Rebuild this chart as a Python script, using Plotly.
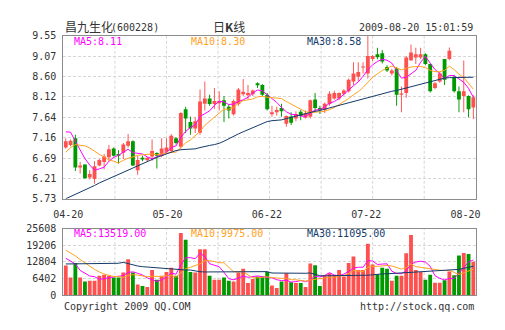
import numpy as np
import plotly.graph_objects as go

# Daily quotes of 昌九生化 (600228), 2009-04-20 .. 2009-08-20
open_ = [6.93, 6.99, 7.15, 6.46, 6.53, 6.23, 6.19, 6.51, 6.59, 6.70,
         6.91, 6.78, 6.81, 6.97, 7.08, 6.40, 6.69, 6.63, 6.72, 6.80,
         6.74, 6.83, 6.85, 7.15, 6.95, 7.83, 7.53, 7.38, 7.28, 7.96,
         8.08, 7.95, 7.97, 8.04, 7.89, 7.71, 7.95, 8.18, 8.16, 8.18,
         8.44, 8.40, 8.17, 7.71, 7.76, 7.86, 7.49, 7.66, 7.61, 7.77,
         7.63, 7.65, 8.06, 7.86, 7.81, 7.95, 8.08, 8.08, 8.19, 8.25,
         8.48, 8.59, 8.81, 8.67, 9.01, 9.12, 9.14, 8.82, 8.67, 8.78,
         8.17, 8.21, 8.98, 9.04, 9.04, 9.12, 8.89, 8.33, 8.48, 9.01,
         9.01, 8.59, 8.25, 8.14, 8.14, 7.87]
high = [7.15, 7.12, 7.23, 6.59, 6.54, 6.40, 6.61, 6.66, 6.78, 6.99,
        6.93, 6.87, 7.04, 7.25, 7.10, 6.74, 6.74, 6.71, 7.12, 6.82,
        7.15, 7.15, 7.25, 7.18, 7.76, 7.89, 7.66, 7.64, 8.29, 8.48,
        8.17, 8.33, 8.25, 8.14, 7.95, 8.06, 8.33, 8.54, 8.40, 8.29,
        8.46, 8.42, 8.21, 7.91, 7.89, 7.96, 7.68, 7.76, 7.78, 7.81,
        7.80, 8.06, 8.21, 7.91, 7.99, 8.25, 8.26, 8.23, 8.30, 8.55,
        8.93, 8.93, 8.93, 9.55, 9.10, 9.27, 9.22, 8.86, 8.78, 8.82,
        8.36, 9.08, 9.35, 9.27, 9.27, 9.14, 8.90, 8.47, 8.70, 9.01,
        9.28, 8.62, 8.36, 8.97, 8.16, 8.16]
low = [6.90, 6.96, 6.38, 6.32, 6.20, 6.18, 6.08, 6.49, 6.42, 6.61,
       6.72, 6.55, 6.66, 6.93, 6.50, 6.29, 6.61, 6.60, 6.62, 6.44,
       6.70, 6.78, 6.81, 7.00, 6.90, 7.27, 7.23, 7.27, 7.23, 7.80,
       7.91, 7.84, 7.80, 7.53, 7.61, 7.68, 7.91, 8.14, 8.06, 8.14,
       8.33, 8.14, 7.80, 7.65, 7.68, 7.65, 7.42, 7.46, 7.55, 7.57,
       7.61, 7.61, 7.76, 7.72, 7.74, 7.91, 8.06, 8.04, 8.15, 8.22,
       8.40, 8.48, 8.67, 8.55, 8.96, 9.00, 8.90, 8.70, 8.62, 7.91,
       7.76, 8.10, 8.96, 8.89, 9.00, 8.86, 8.22, 8.30, 8.45, 8.40,
       8.98, 8.22, 7.76, 7.76, 7.64, 7.60]
close = [7.08, 7.09, 6.46, 6.51, 6.21, 6.31, 6.49, 6.64, 6.72, 6.89,
         6.74, 6.74, 7.00, 7.08, 6.51, 6.64, 6.65, 6.69, 6.85, 6.74,
         6.91, 6.93, 7.21, 7.04, 7.74, 7.61, 7.38, 7.55, 8.01, 8.08,
         7.95, 8.02, 8.02, 7.91, 7.80, 8.02, 8.29, 8.24, 8.21, 8.27,
         8.39, 8.17, 7.83, 7.76, 7.81, 7.78, 7.67, 7.51, 7.72, 7.67,
         7.74, 8.04, 7.86, 7.81, 7.96, 8.19, 8.21, 8.21, 8.27, 8.52,
         8.67, 8.70, 8.83, 9.08, 9.08, 9.05, 8.95, 8.74, 8.74, 8.17,
         8.20, 9.04, 9.16, 9.12, 9.12, 8.89, 8.25, 8.44, 8.67, 8.52,
         9.20, 8.25, 8.06, 8.25, 7.83, 8.11]
volume = [11380, 6800, 12370, 6800, 5200, 5570, 5570, 7420, 7790, 7420,
          6800, 6800, 8660, 13850, 8660, 4080, 3460, 3090, 9650, 5940,
          7420, 8910, 10520, 7420, 23870, 21280, 8910, 8660, 17690, 17690,
          7420, 5940, 5940, 6800, 5570, 5200, 8660, 10140, 4700, 6190,
          7170, 7170, 8910, 3710, 2720, 5200, 8410, 4950, 4700, 4700,
          3090, 12120, 11500, 3460, 7670, 8410, 7670, 9650, 7170, 12370,
          14840, 9650, 9650, 19790, 11750, 8040, 10520, 10140, 5570, 7420,
          7420, 16080, 23130, 9650, 8910, 5940, 7800, 4800, 4800, 5700,
          9055, 7600, 15200, 16200, 15800, 12795]

# moving averages of the close price
ma5 = [7.30, 7.29, 7.08, 6.88, 6.67, 6.52, 6.40, 6.43, 6.47, 6.61,
       6.70, 6.75, 6.82, 6.89, 6.81, 6.79, 6.78, 6.71, 6.67, 6.71,
       6.77, 6.82, 6.93, 6.97, 7.17, 7.31, 7.40, 7.46, 7.66, 7.73,
       7.79, 7.92, 8.02, 8.00, 7.94, 7.95, 8.01, 8.05, 8.11, 8.21,
       8.28, 8.26, 8.17, 8.08, 7.99, 7.87, 7.77, 7.71, 7.70, 7.67,
       7.66, 7.74, 7.81, 7.82, 7.88, 7.97, 8.01, 8.08, 8.17, 8.28,
       8.38, 8.47, 8.60, 8.76, 8.87, 8.95, 9.00, 8.98, 8.91, 8.73,
       8.56, 8.58, 8.66, 8.74, 8.93, 9.07, 8.91, 8.76, 8.67, 8.55,
       8.62, 8.62, 8.54, 8.46, 8.32, 8.11]
ma10 = [6.82, 6.93, 7.00, 6.99, 6.97, 6.92, 6.84, 6.77, 6.71, 6.64,
        6.61, 6.57, 6.63, 6.68, 6.71, 6.75, 6.76, 6.77, 6.78, 6.76,
        6.78, 6.80, 6.82, 6.82, 6.94, 7.04, 7.11, 7.20, 7.31, 7.45,
        7.55, 7.66, 7.74, 7.83, 7.83, 7.87, 7.97, 8.03, 8.05, 8.07,
        8.12, 8.13, 8.11, 8.10, 8.10, 8.08, 8.01, 7.94, 7.89, 7.83,
        7.77, 7.75, 7.76, 7.76, 7.78, 7.82, 7.87, 7.94, 8.00, 8.08,
        8.17, 8.24, 8.34, 8.46, 8.58, 8.66, 8.74, 8.79, 8.84, 8.80,
        8.75, 8.79, 8.82, 8.83, 8.83, 8.81, 8.74, 8.71, 8.71, 8.74,
        8.84, 8.76, 8.65, 8.57, 8.44, 8.30]
ma30 = [5.73, 5.78, 5.83, 5.89, 5.94, 5.99, 6.04, 6.10, 6.15, 6.20,
        6.25, 6.31, 6.36, 6.41, 6.46, 6.51, 6.56, 6.61, 6.65, 6.70,
        6.74, 6.78, 6.82, 6.86, 6.88, 6.89, 6.89, 6.90, 6.93, 6.96,
        6.98, 7.00, 7.03, 7.08, 7.14, 7.19, 7.25, 7.30, 7.35, 7.40,
        7.45, 7.50, 7.54, 7.56, 7.57, 7.58, 7.61, 7.64, 7.67, 7.69,
        7.72, 7.75, 7.78, 7.80, 7.83, 7.86, 7.90, 7.93, 7.95, 7.98,
        8.01, 8.04, 8.07, 8.11, 8.14, 8.16, 8.19, 8.22, 8.25, 8.27,
        8.30, 8.33, 8.36, 8.39, 8.42, 8.45, 8.48, 8.50, 8.53, 8.56,
        8.57, 8.57, 8.58, 8.58, 8.58, 8.58]

# moving averages of the volume
vol_ma5 = [14200, 13200, 12000, 9500, 8510, 7348, 7102, 6112, 6310, 6754,
           7000, 7246, 7494, 8706, 8954, 8410, 7742, 6628, 5788, 5244,
           5912, 7002, 8488, 8042, 11628, 14400, 14400, 14028, 16082, 14846,
           12074, 11480, 10936, 8758, 6334, 5890, 6434, 7274, 6854, 6978,
           7372, 7074, 6828, 6630, 5936, 5542, 5790, 4998, 5196, 5592,
           5170, 5912, 7222, 6974, 7568, 8632, 7742, 7372, 8114, 9054,
           10340, 10736, 10736, 13260, 13136, 11776, 11950, 12048, 9204, 8338,
           8214, 9326, 11924, 12740, 13038, 12742, 11086, 7420, 6450, 5808,
           6431, 6391, 8471, 10751, 12771, 13519]
vol_ma10 = [17300, 16300, 15100, 13700, 12400, 11100, 9900, 8900, 8100, 7632,
            7174, 7174, 6803, 7508, 7854, 7705, 7494, 7061, 7247, 7099,
            7161, 7372, 7558, 6915, 8436, 10156, 10701, 11258, 12062, 13237,
            13237, 12940, 12482, 12420, 10590, 8982, 8957, 9105, 7806, 6656,
            6631, 6754, 7051, 6742, 6457, 6457, 6432, 5913, 5913, 5764,
            5356, 5851, 6110, 6085, 6580, 6901, 6827, 7297, 7544, 8311,
            9486, 9239, 9054, 10687, 11095, 11058, 11343, 11392, 11232, 10737,
            9995, 10638, 11986, 10972, 10688, 10478, 10206, 9672, 9595, 9423,
            9587, 8739, 7946, 8601, 9290, 9975]
vol_ma30 = [11990, 11990, 11990, 11990, 11990, 11990, 11990, 11990, 11990, 11990,
            11990, 12250, 12600, 12100, 11700, 11200, 10950, 10800, 10650, 10500,
            10400, 10270, 10100, 9900, 9650, 9650, 9650, 9300, 9000, 8910,
            8910, 8930, 8900, 8880, 8910, 8950, 8930, 8910, 8900, 8920,
            8950, 8980, 9030, 8500, 8450, 8400, 8410, 8420, 8400, 8380,
            8400, 8515, 7900, 7450, 7420, 7420, 7405, 7420, 7430, 7450,
            7480, 7450, 7500, 7670, 7800, 8100, 8160, 8200, 8300, 8410,
            8410, 8600, 8850, 8910, 9000, 9100, 9150, 9200, 9300, 9450,
            9600, 9650, 9900, 10300, 10700, 11095]

date_labels = ["04-20", "05-20", "06-22", "07-22", "08-20"]
price_labels = ["5.73", "6.21", "6.69", "7.16", "7.64", "8.12", "8.60", "9.07", "9.55"]
volume_labels = ["0", "6402", "12804", "19206", "25608"]

# ---- styling -------------------------------------------------------------
W, H = 505, 330
LEFT, RIGHT = 55, 480
MAIN_TOP, MAIN_BOTTOM = 31, 200
VOL_TOP, VOL_BOTTOM = 231, 300

RED, GREEN = "#ff5050", "#009900"
C_MA5, C_MA10, C_MA30 = "#ff00ff", "#ffa21f", "#133a6b"
FRAME, GRID, TEXT = "#8c8c8c", "#d6d6d6", "#333333"
MONO = "DejaVu Sans Mono"
CJK = "Noto Sans CJK SC"


def fx(p):
    return p / W


def fy(p):
    return 1 - p / H


o = np.array(open_)
h = np.array(high)
l = np.array(low)
c = np.array(close)
v = np.array(volume)
n = len(c)
idx = np.arange(n)
colors = [RED if ci >= oi else GREEN for oi, ci in zip(o, c)]

fig = go.Figure()

# candle wicks and bodies
fig.add_trace(go.Bar(x=idx, y=h - l, base=l, width=0.2, marker=dict(color=colors, line=dict(width=0)),
                     xaxis="x", yaxis="y", hoverinfo="skip"))
fig.add_trace(go.Bar(x=idx, y=np.maximum(np.abs(c - o), 0.02), base=np.minimum(o, c), width=0.8,
                     marker=dict(color=colors, line=dict(width=0)), xaxis="x", yaxis="y", hoverinfo="skip"))
for series, col in ((ma5, C_MA5), (ma10, C_MA10), (ma30, C_MA30)):
    fig.add_trace(go.Scatter(x=idx, y=series, mode="lines", line=dict(color=col, width=1),
                             xaxis="x", yaxis="y", hoverinfo="skip"))

# volume bars
fig.add_trace(go.Bar(x=idx, y=v, width=0.8, marker=dict(color=colors, line=dict(width=0)),
                     xaxis="x2", yaxis="y2", hoverinfo="skip"))
for series, col in ((vol_ma5, C_MA5), (vol_ma10, C_MA10), (vol_ma30, C_MA30)):
    fig.add_trace(go.Scatter(x=idx, y=series, mode="lines", line=dict(color=col, width=1),
                             xaxis="x2", yaxis="y2", hoverinfo="skip"))

bar_px = (RIGHT - LEFT) / n
tick_pos = [(p - LEFT) / bar_px - 0.5 for p in np.linspace(60, 469.5, len(date_labels))]

frame = dict(showline=True, mirror=True, linecolor=FRAME, linewidth=1, zeroline=False,
             ticks="", fixedrange=True)
tick_font = dict(family=MONO, size=10, color=TEXT)

fig.update_layout(
    width=W, height=H, autosize=False,
    margin=dict(l=0, r=0, t=0, b=0),
    paper_bgcolor="white", plot_bgcolor="white",
    showlegend=False, barmode="overlay",
    xaxis=dict(domain=[fx(LEFT), fx(RIGHT)], range=[-0.5, n - 0.5], anchor="y",
               showgrid=False, tickmode="array", tickvals=tick_pos, ticktext=date_labels,
               tickfont=tick_font, ticklabelstandoff=6, **frame),
    yaxis=dict(domain=[fy(MAIN_BOTTOM), fy(MAIN_TOP)], range=[5.73, 9.55], anchor="x",
               tickmode="array", tickvals=np.linspace(5.73, 9.55, len(price_labels)),
               ticktext=price_labels, tickfont=tick_font, ticklabelstandoff=4,
               showgrid=True, gridcolor=GRID, griddash="3px,2px", gridwidth=1, **frame),
    xaxis2=dict(domain=[fx(LEFT), fx(RIGHT)], range=[-0.5, n - 0.5], anchor="y2",
                showgrid=False, showticklabels=False, **frame),
    yaxis2=dict(domain=[fy(VOL_BOTTOM), fy(VOL_TOP)], range=[0, 25608], anchor="x2",
                tickmode="array", tickvals=np.linspace(0, 25608, len(volume_labels)),
                ticktext=volume_labels, tickfont=tick_font, ticklabelstandoff=4,
                showgrid=True, gridcolor=GRID, griddash="3px,2px", gridwidth=1, **frame),
)

# vertical dashed grid: eight equal divisions of the time axis
for k in range(1, 8):
    xv = -0.5 + k * n / 8
    for xr, yr in (("x", "y domain"), ("x2", "y2 domain")):
        fig.add_shape(type="line", xref=xr, yref=yr, x0=xv, x1=xv, y0=0, y1=1, layer="below",
                      line=dict(color=GRID, width=1, dash="3px,2px"))


def label(text, x, y, color=TEXT, anchor="left", family=MONO, size=10):
    fig.add_annotation(text=text, x=fx(x), y=fy(y), xref="paper", yref="paper",
                       xanchor=anchor, yanchor="middle", showarrow=False,
                       font=dict(family=family, size=size, color=color))


label("昌九生化", 55, 21, family=CJK, size=12)
label("(600228)", 102, 22)
label("日<b>K</b>线", 225.5, 21, anchor="center", family=CJK, size=12)
label("2009-08-20 15:01:59", 479, 22, anchor="right")

label(f"MA5:{ma5[-1]:.2f}", 64, 37, C_MA5)
label(f"MA10:{ma10[-1]:.2f}", 184, 37, C_MA10)
label(f"MA30:{ma30[-1]:.2f}", 304, 37, C_MA30)
label(f"MA5:{vol_ma5[-1]:.2f}", 64, 236.5, C_MA5)
label(f"MA10:{vol_ma10[-1]:.2f}", 184, 236.5, C_MA10)
label(f"MA30:{vol_ma30[-1]:.2f}", 304, 236.5, C_MA30)

label("Copyright 2009 QQ.COM", 54, 312)
label("http://stock.qq.com", 480, 312, anchor="right")

fig.write_html("out.html", config={"displayModeBar": False, "staticPlot": True})
